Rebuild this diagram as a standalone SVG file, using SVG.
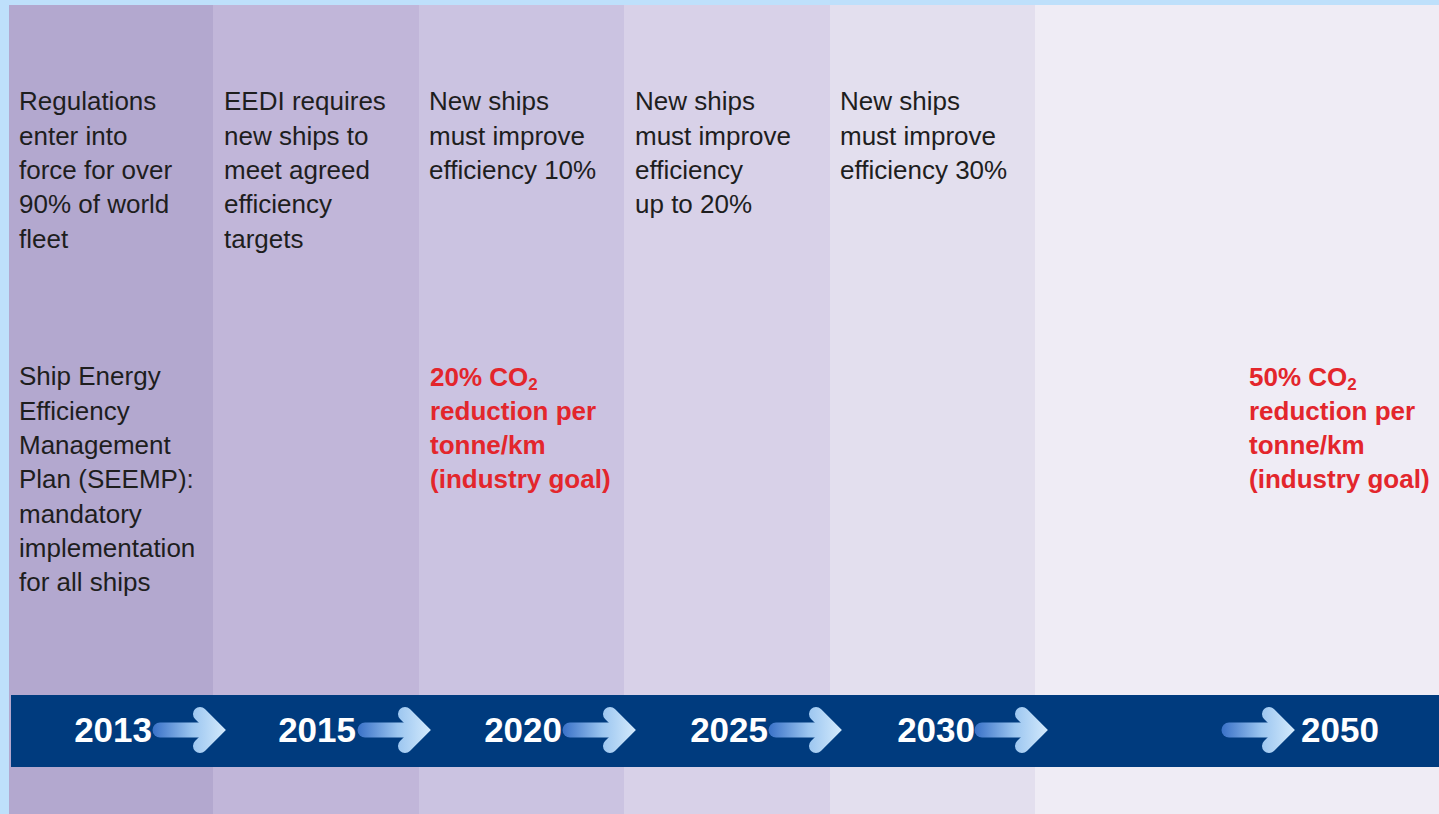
<svg xmlns="http://www.w3.org/2000/svg" width="1439" height="814" viewBox="0 0 1439 814">
<style>
.body{font-family:"Liberation Sans",Arial,sans-serif;font-size:26px;fill:#1e1e1e}
.goal{font-family:"Liberation Sans",Arial,sans-serif;font-size:26px;font-weight:bold;fill:#e3262c}
.year{font-family:"Liberation Sans",Arial,sans-serif;font-size:35px;font-weight:bold;fill:#ffffff}
</style>
<defs>
<linearGradient id="ag" gradientUnits="userSpaceOnUse" x1="0" y1="0" x2="72" y2="0">
<stop offset="0" stop-color="#3a72c8"/>
<stop offset="0.55" stop-color="#9cc6f0"/>
<stop offset="1" stop-color="#d2e9fc"/>
</linearGradient>
<g id="arrow">
<path d="M7,0 H58" fill="none" stroke="url(#ag)" stroke-width="15" stroke-linecap="round"/>
<path d="M47,-16 L63,0 L47,16" fill="none" stroke="url(#ag)" stroke-width="14" stroke-linecap="round" stroke-linejoin="miter"/>
</g>
</defs>
<rect x="0" y="0" width="1439" height="814" fill="#bee0fb"/>
<g id="columns">
<rect x="9" y="5" width="204" height="809" fill="#b3a8cf"/>
<rect x="213" y="5" width="206" height="809" fill="#c1b6d9"/>
<rect x="419" y="5" width="205" height="809" fill="#cbc3e1"/>
<rect x="624" y="5" width="206" height="809" fill="#d8d1e8"/>
<rect x="830" y="5" width="205" height="809" fill="#e3dfee"/>
<rect x="1035" y="5" width="404" height="809" fill="#efecf5"/>
</g>
<g id="node-2013">
<text class="body" x="19" y="110">Regulations</text>
<text class="body" x="19" y="144.5">enter into</text>
<text class="body" x="19" y="179">force for over</text>
<text class="body" x="19" y="213">90% of world</text>
<text class="body" x="19" y="247.5">fleet</text>
<text class="body" x="19" y="385">Ship Energy</text>
<text class="body" x="19" y="419.5">Efficiency</text>
<text class="body" x="19" y="454">Management</text>
<text class="body" x="19" y="488">Plan (SEEMP):</text>
<text class="body" x="19" y="522.5">mandatory</text>
<text class="body" x="19" y="557">implementation</text>
<text class="body" x="19" y="591">for all ships</text>
</g>
<g id="node-2015">
<text class="body" x="224" y="110">EEDI requires</text>
<text class="body" x="224" y="144.5">new ships to</text>
<text class="body" x="224" y="179">meet agreed</text>
<text class="body" x="224" y="213">efficiency</text>
<text class="body" x="224" y="247.5">targets</text>
</g>
<g id="node-2020">
<text class="body" x="429" y="110">New ships</text>
<text class="body" x="429" y="144.5">must improve</text>
<text class="body" x="429" y="179">efficiency 10%</text>
<text class="goal" x="430" y="386">20% CO<tspan font-size="17" dy="4">2</tspan></text>
<text class="goal" x="430" y="420">reduction per</text>
<text class="goal" x="430" y="454">tonne/km</text>
<text class="goal" x="430" y="488">(industry goal)</text>
</g>
<g id="node-2025">
<text class="body" x="635" y="110">New ships</text>
<text class="body" x="635" y="144.5">must improve</text>
<text class="body" x="635" y="179">efficiency</text>
<text class="body" x="635" y="213">up to 20%</text>
</g>
<g id="node-2030">
<text class="body" x="840" y="110">New ships</text>
<text class="body" x="840" y="144.5">must improve</text>
<text class="body" x="840" y="179">efficiency 30%</text>
</g>
<g id="node-2050">
<text class="goal" x="1249" y="386">50% CO<tspan font-size="17" dy="4">2</tspan></text>
<text class="goal" x="1249" y="420">reduction per</text>
<text class="goal" x="1249" y="454">tonne/km</text>
<text class="goal" x="1249" y="488">(industry goal)</text>
</g>
<g id="timeline">
<rect x="11" y="695" width="1428" height="72" fill="#003b7e"/>
<text class="year" x="152" y="742" text-anchor="end">2013</text>
<text class="year" x="356" y="742" text-anchor="end">2015</text>
<text class="year" x="562" y="742" text-anchor="end">2020</text>
<text class="year" x="768" y="742" text-anchor="end">2025</text>
<text class="year" x="975" y="742" text-anchor="end">2030</text>
<text class="year" x="1301" y="742">2050</text>
</g>
<g id="connectors">
<use href="#arrow" transform="translate(153,730)"/>
<use href="#arrow" transform="translate(358,730)"/>
<use href="#arrow" transform="translate(563,730)"/>
<use href="#arrow" transform="translate(769,730)"/>
<use href="#arrow" transform="translate(975,730)"/>
<use href="#arrow" transform="translate(1222,730)"/>
</g>
</svg>
